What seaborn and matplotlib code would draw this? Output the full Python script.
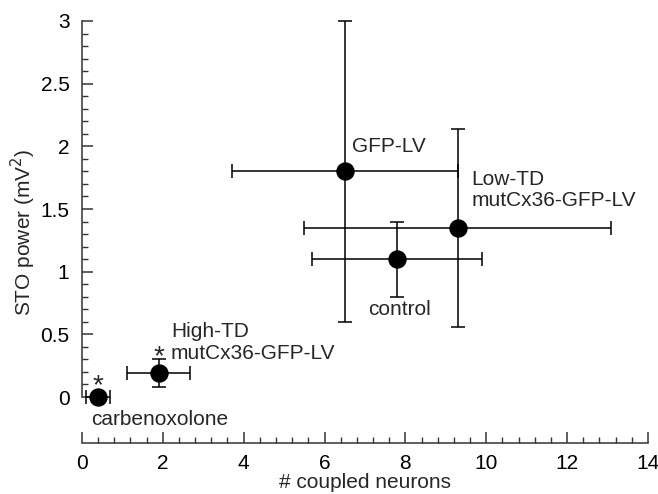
import numpy as np
import pandas as pd
import seaborn as sns
import matplotlib.pyplot as plt
from matplotlib.ticker import MultipleLocator, FixedLocator

groups = ["carbenoxolone", "High-TD", "GFP-LV", "control", "Low-TD"]
neurons = [0.4, 1.9, 6.5, 7.8, 9.3]
neurons_err = [0.3, 0.78, 2.8, 2.1, 3.8]
sto_power = [0.0, 0.19, 1.8, 1.1, 1.35]
sto_err = [0.03, 0.11, 1.2, 0.3, 0.79]

sns.set_style("ticks")
plt.rcParams['font.family'] = ['Liberation Sans', 'DejaVu Sans']

df = pd.DataFrame({"group": groups, "x": neurons, "y": sto_power,
                   "xerr": neurons_err, "yerr": sto_err})

fig = plt.figure(figsize=(6.58, 4.94), dpi=100)
ax = fig.add_axes([0.1246, 0.1032, 0.860, 0.8543])

ax.errorbar(df["x"], df["y"], xerr=df["xerr"], yerr=df["yerr"], fmt="none",
            ecolor="black", elinewidth=1.1, capsize=5, capthick=1.1,
            clip_on=False, zorder=2)
sns.scatterplot(data=df, x="x", y="y", ax=ax, color="black", s=150,
                edgecolor="black", zorder=3, clip_on=False, legend=False)

fs = 15
ax.text(6.69, 2.0, "GFP-LV", fontsize=fs, ha="left", va="center")
ax.text(9.63, 1.65, "Low-TD\nmutCx36-GFP-LV", fontsize=fs, ha="left",
        va="center", linespacing=1.15)
ax.text(7.85, 0.70, "control", fontsize=fs, ha="center", va="center")
ax.text(2.2, 0.435, "High-TD\nmutCx36-GFP-LV", fontsize=fs, ha="left",
        va="center", linespacing=1.15)
ax.text(0.22, -0.18, "carbenoxolone", fontsize=fs, ha="left", va="center")
ax.text(0.4, 0.09, "*", fontsize=20, ha="center", va="center")
ax.text(1.9, 0.32, "*", fontsize=20, ha="center", va="center")

ax.set_xlim(0, 14)
ax.set_ylim(-0.367, 3.0)
ax.spines["top"].set_visible(False)
ax.spines["right"].set_visible(False)
ax.spines["left"].set_bounds(0, 3)
ax.spines["bottom"].set_bounds(0, 14)
for sp in ("left", "bottom"):
    ax.spines[sp].set_linewidth(1.1)
    ax.spines[sp].set_color("#333333")

ax.xaxis.set_major_locator(MultipleLocator(2))
ax.xaxis.set_minor_locator(MultipleLocator(0.4))
ax.set_yticks([0, 0.5, 1, 1.5, 2, 2.5, 3])
ax.set_yticklabels(["0", "0.5", "1", "1.5", "2", "2.5", "3"])
ax.yaxis.set_minor_locator(FixedLocator([i / 10 for i in range(31)]))
ax.tick_params(axis="y", which="major", pad=9)
ax.tick_params(axis="x", which="major", pad=8)
ax.tick_params(which="major", direction="in", length=8, width=1.1,
               labelsize=15, colors="#333333", labelcolor="black")
ax.tick_params(which="minor", direction="in", length=4.5, width=1.0,
               colors="#333333")

ax.set_xlabel("# coupled neurons", fontsize=15, labelpad=0)
ax.set_ylabel("STO power (mV$^2$)", fontsize=15, labelpad=2)

fig.savefig("out.png", dpi=100)
